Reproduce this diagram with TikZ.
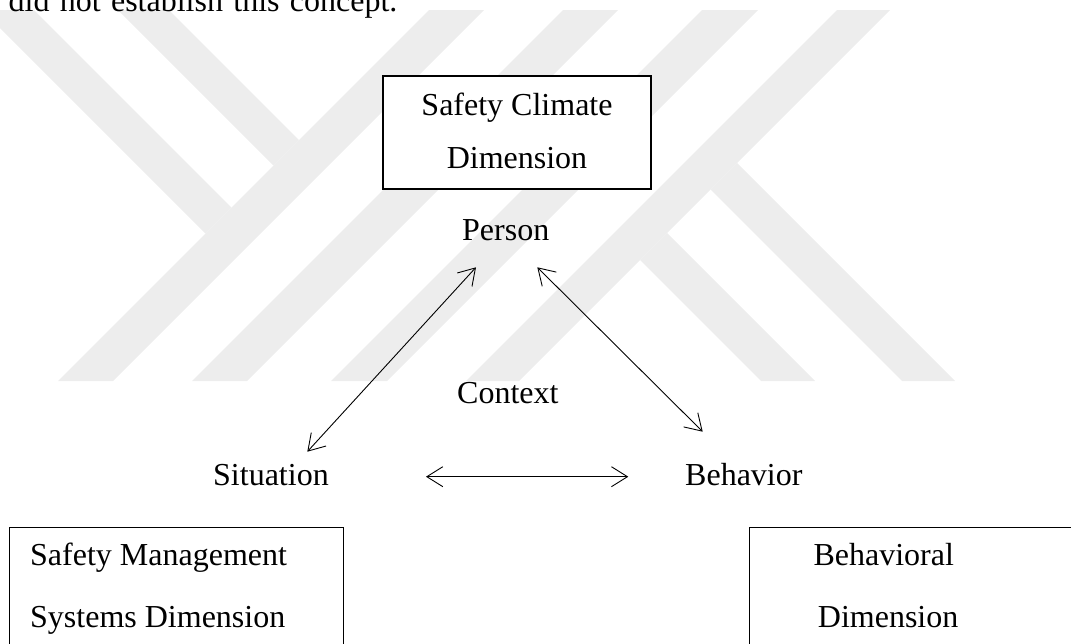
\documentclass[tikz,border=0pt]{standalone}
\usepackage{fontspec}
\setmainfont{Liberation Serif}
\usetikzlibrary{arrows.meta}
\definecolor{wmgray}{RGB}{237,237,237}
\tikzset{
  lbl/.style={anchor=base west, inner sep=0pt, font=\fontsize{32}{38}\selectfont},
  clbl/.style={anchor=base, inner sep=0pt, font=\fontsize{32}{38}\selectfont},
  framebox/.style={draw, line width=1.8pt, fill=white, inner sep=0pt},
  dimbox/.style={draw, line width=1pt, inner sep=0pt, anchor=north west},
  twoway/.style={line width=0.9pt,
    {Straight Barb[length=16pt,width=20pt]}-{Straight Barb[length=16pt,width=20pt]}},
  band/.style={fill=wmgray, draw=none}
}
\newcommand{\jsp}{\hspace{10.3pt}}
\begin{document}
\begin{tikzpicture}[x=1pt,y=-1pt]
\useasboundingbox (0,0) rectangle (1071,643);
\clip (0,0) rectangle (1071,643);

% background emblem: diagonal bands
\fill[band] (429,10) -- (484,10) -- (113,381) -- (58,381) -- cycle;
\fill[band] (563,10) -- (618,10) -- (247,381) -- (192,381) -- cycle;
\fill[band] (702,10) -- (758,10) -- (387,381) -- (331,381) -- cycle;
\fill[band] (837,10) -- (890,10) -- (519,381) -- (466,381) -- cycle;
\fill[band] (-18,10) -- (34,10) -- (231.5,207.5) -- (205.5,233.5) -- cycle;
\fill[band] (118,10) -- (169,10) -- (299,140) -- (273.5,165.5) -- cycle;
\fill[band] (737,163) -- (955,381) -- (902,381) -- (710.5,189.5) -- cycle;
\fill[band] (667,233) -- (815,381) -- (761,381) -- (640,260) -- cycle;

% last line of the justified paragraph above the figure
\node[lbl] (intro) at (8.5,11.5) {did\jsp not\jsp establish\jsp this\jsp concept.};

% framed dimension boxes
\node[framebox, minimum width=268pt, minimum height=113pt] (climatebox) at (517,132.5) {};
\node[clbl] (climate1) at (517,115) {Safety Climate};
\node[clbl] (climate2) at (517,168.5) {Dimension};

\node[dimbox, minimum width=334.3pt, minimum height=160pt] (smsbox) at (9,526.7) {};
\node[lbl] (sms1) at (30,565) {Safety Management};
\node[lbl] (sms2) at (30,627) {Systems Dimension};

\node[dimbox, minimum width=360pt, minimum height=160pt] (behbox) at (749,526.7) {};
\node[lbl] (beh1) at (813.3,565) {Behavioral};
\node[lbl] (beh2) at (817.7,627) {Dimension};

% triad labels
\node[lbl] (person) at (462,240) {Person};
\node[lbl] (context) at (457,403.5) {Context};
\node[lbl] (situation) at (213,485.5) {Situation};
\node[lbl] (behavior) at (685,485.5) {Behavior};

% arrow end points
\coordinate (sitUp) at (307.3,451.7);
\coordinate (perLeft) at (476,267.3);
\coordinate (perRight) at (537.3,267.3);
\coordinate (behUp) at (702.7,431.7);
\coordinate (sitSide) at (426,476.7);
\coordinate (behSide) at (628.3,476.7);

\draw[twoway] (sitUp) -- (perLeft);
\draw[twoway] (perRight) -- (behUp);
\draw[twoway] (sitSide) -- (behSide);
\end{tikzpicture}
\end{document}
